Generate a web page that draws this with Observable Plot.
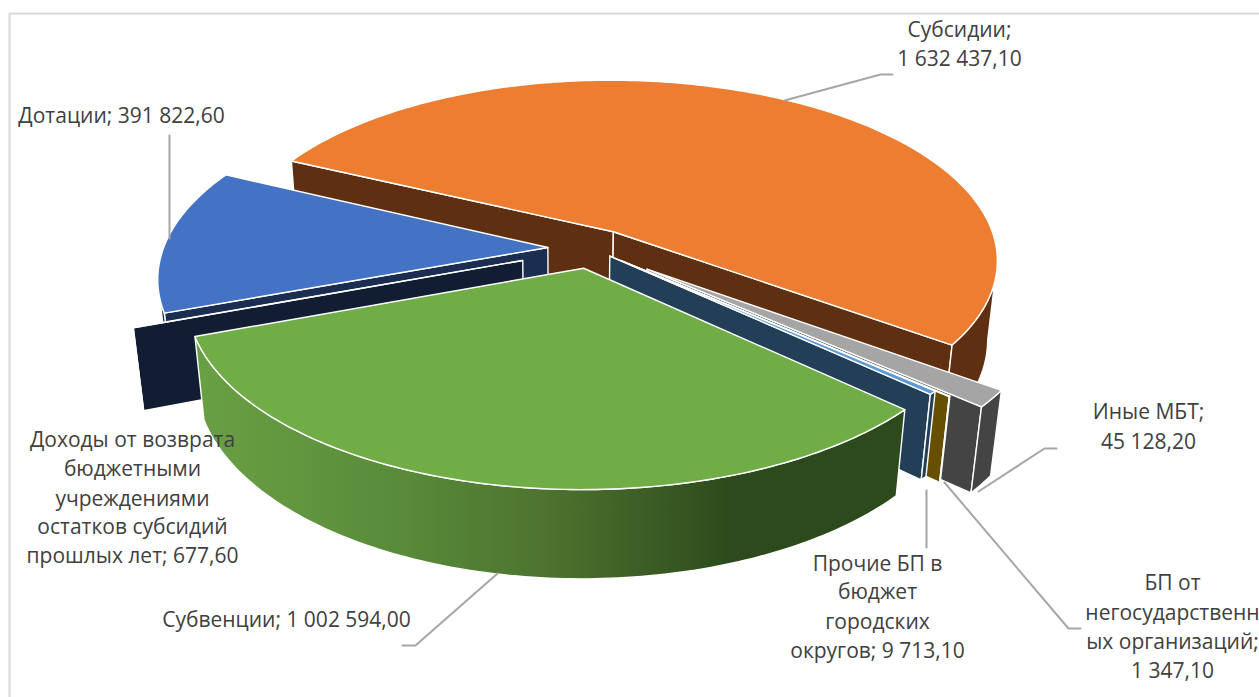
<!DOCTYPE html>
<html><head><meta charset="utf-8">
<script src="https://cdn.jsdelivr.net/npm/d3@7"></script>
<script src="https://cdn.jsdelivr.net/npm/@observablehq/plot@0.6"></script>
<style>html,body{margin:0;padding:0;background:#fff}svg{display:block}</style>
</head><body><div id="chart"></div>
<script>
// Data, in the chart's clockwise order
const names = ["Дотации","Субсидии","Иные МБТ","БП от негосударственных организаций","Прочие БП в бюджет городских округов","Субвенции","Доходы от возврата бюджетными учреждениями остатков субсидий прошлых лет"];
const values = [391822.6,1632437.1,45128.2,1347.1,9713.1,1002594.0,677.6];
const topColors = ["#4472C4","#ED7D31","#A5A5A5","#FFC000","#5B9BD5","#70AD47","#264478"];
const wallColors = ["#1B2E52","#5F2F11","#444444","#665000","#223F57","url(#greenWall)","#101D33"];
const explosions = [0.115,0.11,0.18,0.10,0.062,0.11,0.19];
const paintOrder = [1,0,6,2,3,4,5];

// Labels
const labelLines = [
  ["Субсидии;","1 632 437,10"],
  ["Дотации; 391 822,60"],
  ["Доходы от возврата","бюджетными","учреждениями","остатков субсидий","прошлых лет; 677,60"],
  ["Субвенции; 1 002 594,00"],
  ["Прочие БП в","бюджет","городских","округов; 9 713,10"],
  ["БП от","негосударственн","ых организаций;","1 347,10"],
  ["Иные МБТ;","45 128,20"]
];
const labelX = [959,121,132,286,877,1172,1148];
const labelY = [[30,59],[116],[440,469,499,527,556],[620],[564,592,622,651],[583,613,642,671],[412,442]];
const leaders = [
  [[784,100],[880,74],[892,74]],
  [[169,238],[169,135]],
  [[497,573],[415,645],[402,645]],
  [[926,490],[926,547]],
  [[944,482],[1068,628],[1080,628]],
  [[978,491],[1044,448],[1056,448]]
];

// Projection of the pie plane (tilted, with perspective)
const cam = {cx:591.5, cy:248, a:384.5, b:180, k:0.156, vx:567, vy:3800, depth:0.0223, start:-110.2};
function project(X, Y, z) {
  const w = 1 + cam.k * Y;
  const sx = cam.cx + cam.a * X / w, sy = cam.cy - cam.b * Y / w;
  const t = z * cam.depth / w;
  return {x: sx + (cam.vx - sx) * t, y: sy + (cam.vy - sy) * t};
}
const total = d3.sum(values);
const rad = d => d * Math.PI / 180;
let acc = cam.start;
const slices = values.map((v, i) => {
  const a0 = acc, a1 = acc + v / total * 360; acc = a1;
  const mid = rad((a0 + a1) / 2), e = explosions[i];
  const ox = e * Math.sin(mid), oy = e * Math.cos(mid);
  const n = Math.max(1, Math.ceil(a1 - a0));
  const arc = d3.range(n + 1).map(j => {
    const t = rad(a0 + (a1 - a0) * j / n);
    return [ox + Math.sin(t), oy + Math.cos(t)];
  });
  return {i, ox, oy, arc};
});
const P = (pt, z) => project(pt[0], pt[1], z);
const closed = pts => [...pts, pts[0]];

function sliceMarks(s) {
  const c = [s.ox, s.oy], n = s.arc.length - 1, first = s.arc[0], last = s.arc[n];
  const edge = {fill: wallColors[s.i], stroke: "#fff", strokeWidth: 1.4, x: "x", y: "y", curve: "linear", strokeLinejoin: "round"};
  const face = (a, b) => closed([P(a,0), P(b,0), P(b,1), P(a,1)]);
  // A radial face shows only when its slice lies above the edge it hangs from
  const pc = P(c,0);
  const above = (p, inner) => {
    const q = P(p,0), m = P(inner,0);
    return m.y < pc.y + (q.y - pc.y) * (m.x - pc.x) / (q.x - pc.x);
  };
  const faces = [];
  if (above(first, s.arc[1])) faces.push(first);
  if (above(last, s.arc[n - 1])) faces.push(last);
  // The outer wall shows only where the rim runs right to left on screen
  const rim = s.arc.filter((p, j) => {
    const x = P(p,0).x;
    return (j > 0 && P(s.arc[j-1],0).x > x) || (j < n && P(s.arc[j+1],0).x < x);
  });
  const marks = faces.map(p => Plot.line(face(c, p), edge));
  if (rim.length > 1) marks.push(Plot.line(closed([...rim.map(p => P(p,0)), ...rim.slice().reverse().map(p => P(p,1))]), edge));
  marks.push(Plot.line(closed([P(c,0), ...s.arc.map(p => P(p,0))]), {...edge, fill: topColors[s.i]}));
  return marks;
}

const labelRows = labelLines.flatMap((lines, i) => lines.map((t, j) => ({t, x: labelX[i], y: labelY[i][j]})));
const gradient = () => {
  const g = d3.create("svg:defs").append("linearGradient").attr("id", "greenWall");
  [[0,"#6AA044"],[0.3,"#588A39"],[0.5,"#4D722E"],[0.76,"#2C4A1C"],[1,"#2C4A1C"]]
    .forEach(([o,c]) => g.append("stop").attr("offset", o).attr("stop-color", c));
  return g.node().parentNode;
};

const chart = Plot.plot({
  width: 1259, height: 697, margin: 0,
  x: {domain: [0,1259], range: [0,1259], axis: null},
  y: {domain: [0,697], range: [0,697], axis: null},
  style: {background: "#fff"},
  marks: [
    gradient,
    Plot.ruleY([13], {x1: 9, x2: 1259, stroke: "#D9D9D9", strokeWidth: 2}),
    Plot.ruleX([9], {y1: 13, y2: 697, stroke: "#D9D9D9", strokeWidth: 2}),
    ...paintOrder.flatMap(i => sliceMarks(slices[i])),
    ...leaders.map(l => Plot.line(l, {x: d => d[0], y: d => d[1], stroke: "#A6A6A6", strokeWidth: 2})),
    Plot.text(labelRows, {x: "x", y: "y", text: "t", fill: "#404040", fontSize: 21, fontFamily: "'Open Sans', sans-serif", textAnchor: "middle", lineAnchor: "middle"})
  ]
});
document.getElementById("chart").append(chart);
</script></body></html>
